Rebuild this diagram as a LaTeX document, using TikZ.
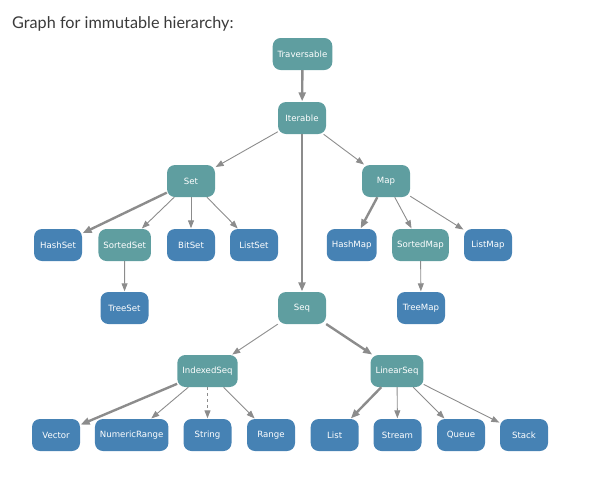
\documentclass[tikz,border=0pt]{standalone}
\usepackage{fontspec}
\setmainfont{Lato}
\newfontfamily\nodefont{DejaVu Sans}
\usetikzlibrary{arrows.meta}
\definecolor{traitcol}{HTML}{5F9EA0}
\definecolor{classcol}{HTML}{4682B4}
\definecolor{edgecol}{HTML}{8C8C8C}
\definecolor{titlecol}{HTML}{3A3A3A}
\tikzset{
	box/.style={rounded corners=8pt, minimum width=48pt, minimum height=32pt, inner xsep=5pt, text=white, font=\nodefont\fontsize{8.6}{10}\selectfont}, % common look of every node
	trait/.style={box, fill=traitcol}, % traits in teal
	cls/.style={box, fill=classcol}, % classes in blue
	link/.style={draw=edgecol, line width=0.9pt, -{Triangle[length=8pt,width=6pt]}, shorten >=0.5pt}, % ordinary edges
	boldlink/.style={link, line width=2.4pt, -{Triangle[length=9pt,width=7pt]}}, % default implementations
	dashlink/.style={link, dashed}, % implicit conversion
}
\begin{document}
\begin{tikzpicture}[x=1pt,y=-1pt]
		\useasboundingbox (0,0) rectangle (604,488);
		\node[anchor=west, text=titlecol, font=\fontsize{16.2}{19}\selectfont, inner sep=0pt] (title) at (12,24) {Graph for immutable hierarchy:};
		
		\node[trait] (trav) at (302.5,54) {Traversable};
		\node[trait] (iter) at (302,118) {Iterable};
		\node[trait] (set) at (191,181) {Set};
		\node[trait] (map) at (386,181) {Map};
		\node[cls] (hset) at (58,245) {HashSet};
		\node[trait] (sset) at (124.7,245) {SortedSet};
		\node[cls] (bset) at (191,245) {BitSet};
		\node[cls] (lset) at (254,245) {ListSet};
		\node[cls] (hmap) at (351.7,245) {HashMap};
		\node[trait] (smap) at (420.5,245) {SortedMap};
		\node[cls] (lmap) at (488,245) {ListMap};
		\node[cls] (tset) at (124.5,308) {TreeSet};
		\node[trait] (seq) at (302,308) {Seq};
		\node[cls] (tmap) at (421,308) {TreeMap};
		\node[trait] (iseq) at (207.5,371) {IndexedSeq};
		\node[trait] (lseq) at (397,371) {LinearSeq};
		\node[cls] (vec) at (56,435) {Vector};
		\node[cls] (nrange) at (131.7,435) {NumericRange};
		\node[cls] (str) at (207.5,435) {String};
		\node[cls] (range) at (271,435) {Range};
		\node[cls] (list) at (334.7,435) {List};
		\node[cls] (stream) at (397.5,435) {Stream};
		\node[cls] (queue) at (461,435) {Queue};
		\node[cls] (stack) at (524,435) {Stack};
		
		\draw	(trav) edge[boldlink] (iter)
					  (iter) edge[link] (set)
					  (iter) edge[link] (map)
					  (iter) edge[boldlink] (seq)
					  (set) edge[boldlink] (hset)
					  (set) edge[link] (sset)
					  (set) edge[link] (bset)
					  (set) edge[link] (lset)
					  (sset) edge[link] (tset)
					  (map) edge[boldlink] (hmap)
					  (map) edge[link] (smap)
					  (map) edge[link] (lmap)
					  (smap) edge[link] (tmap)
					  (seq) edge[link] (iseq)
					  (seq) edge[boldlink] (lseq)
					  (iseq) edge[boldlink] (vec)
					  (iseq) edge[link] (nrange)
					  (iseq) edge[dashlink] (str)
					  (iseq) edge[link] (range)
					  (lseq) edge[boldlink] (list)
					  (lseq) edge[link] (stream)
					  (lseq) edge[link] (queue)
					  (lseq) edge[link] (stack);
		
	\end{tikzpicture}
\end{document}
